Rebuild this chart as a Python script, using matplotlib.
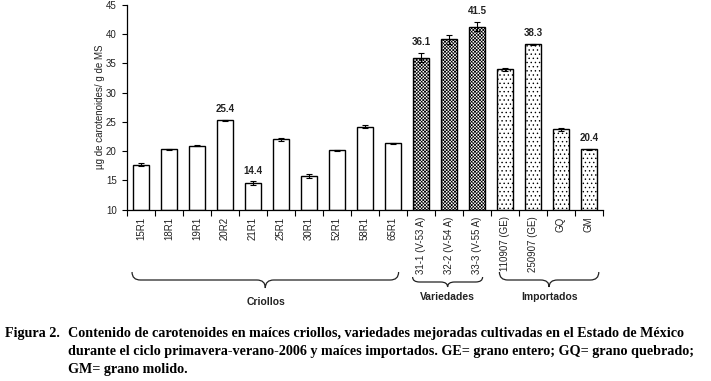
import matplotlib
matplotlib.use("Agg")
import matplotlib.pyplot as plt
from matplotlib.path import Path
from matplotlib.patches import PathPatch
import matplotlib.transforms as mtransforms

# datos
categorias = ['15R1', '18R1', '19R1', '20R2', '21R1', '25R1', '30R1', '52R1', '58R1', '65R1',
              '31-1 (V-53 A)', '32-2 (V-54 A)', '33-3 (V-55 A)',
              '110907 (GE)', '250907 (GE)', 'GQ', 'GM']
valores = [17.7, 20.3, 20.9, 25.3, 14.5, 22.0, 15.7, 20.1, 24.2, 21.3,
           36.0, 39.1, 41.3, 34.0, 38.3, 23.7, 20.3]
errores = [0.3, 0.1, 0.1, 0.1, 0.3, 0.2, 0.3, 0.1, 0.3, 0.1,
           0.8, 0.8, 0.8, 0.3, 0.1, 0.2, 0.1]
etiquetas = [None, None, None, '25.4', '14.4', None, None, None, None, None,
             '36.1', None, '41.5', None, '38.3', None, '20.4']
grupos = ['Criollos'] * 10 + ['Variedades'] * 3 + ['Importados'] * 4
yticks = [10, 15, 20, 25, 30, 35, 40, 45]

plt.rcParams['hatch.linewidth'] = 0.5
fuente = 'Liberation Sans'
gris = '#222222'

fig = plt.figure(figsize=(7.11, 3.81), dpi=100)
ax = fig.add_axes([127 / 711, 1 - 209.5 / 381, 476 / 711, 204.5 / 381])

tramas = {'Criollos': '', 'Variedades': 'xxxxxxxxxx', 'Importados': '....'}
x = list(range(len(categorias)))
for i in x:
    ax.bar(i, valores[i] - 10, bottom=10, width=0.58, color='white', edgecolor='black',
           linewidth=1.0, hatch=tramas[grupos[i]], zorder=2)
ax.errorbar(x, valores, yerr=errores, fmt='none', ecolor='black', elinewidth=0.8,
            capsize=2.5, capthick=0.8, zorder=3)

for i, t in enumerate(etiquetas):
    if t:
        ax.annotate(t, (i, valores[i] + errores[i]), xytext=(0, 4), textcoords='offset points',
                    ha='center', va='bottom', fontsize=7, fontweight='bold',
                    family=fuente, color=gris)

ax.set_xlim(-0.5, len(categorias) - 0.5)
ax.set_ylim(10, 45)
ax.set_yticks(yticks)
ax.set_yticklabels([str(v) for v in yticks], family=fuente, fontsize=7, color=gris)
# ticks de x en los limites de cada categoria (estilo Excel)
ax.set_xticks([i - 0.5 for i in range(len(categorias) + 1)])
ax.set_xticklabels([])
ax.set_xticks(x, minor=True)
ax.set_xticklabels(categorias, minor=True, rotation=90, family=fuente, fontsize=7,
                   color=gris)
ax.tick_params(axis='x', which='minor', length=0, pad=5)
ax.tick_params(axis='x', which='major', length=4, width=0.8, direction='out')
ax.tick_params(axis='y', length=3.5, width=0.8, direction='out', pad=4)
for s in ['top', 'right']:
    ax.spines[s].set_visible(False)
for s in ['left', 'bottom']:
    ax.spines[s].set_linewidth(0.9)

fig.text(100 / 711, 1 - 107 / 381, 'µg de carotenoides/ g de MS', rotation=90,
         ha='center', va='center', family=fuente, fontsize=7, color=gris)

# llaves bajo los grupos
trans = mtransforms.blended_transform_factory(ax.transData, ax.transAxes)


def llave(x0, x1, y_top, y_mid, y_tip, d=0.3):
    xc = (x0 + x1) / 2
    verts = [(x0, y_top), (x0, y_mid), (x0 + d, y_mid),
             (xc - d, y_mid), (xc, y_mid), (xc, y_tip),
             (xc, y_mid), (xc + d, y_mid),
             (x1 - d, y_mid), (x1, y_mid), (x1, y_top)]
    codes = [Path.MOVETO, Path.CURVE3, Path.CURVE3,
             Path.LINETO, Path.CURVE3, Path.CURVE3,
             Path.CURVE3, Path.CURVE3,
             Path.LINETO, Path.CURVE3, Path.CURVE3]
    ax.add_patch(PathPatch(Path(verts, codes), transform=trans, fill=False,
                           edgecolor=gris, linewidth=0.9, clip_on=False))


def fy(py):
    return (209.5 - py) / 204.5


llave(-0.32, 9.2, fy(272), fy(280), fy(288))
ax.text(4.45, fy(302), 'Criollos', transform=trans, ha='center', va='center',
        family=fuente, fontsize=7.5, fontweight='bold', color=gris)
llave(9.7, 12.2, fy(277), fy(282), fy(287), d=0.25)
ax.text(10.95, fy(297), 'Variedades', transform=trans, ha='center', va='center',
        family=fuente, fontsize=7.5, fontweight='bold', color=gris)
llave(12.8, 16.35, fy(272), fy(280), fy(287), d=0.3)
ax.text(14.6, fy(297), 'Importados', transform=trans, ha='center', va='center',
        family=fuente, fontsize=7.5, fontweight='bold', color=gris)

# pie de figura
serif = 'Liberation Serif'
fig.text(5 / 711, 1 - 333 / 381, 'Figura 2.', ha='left', va='center', family=serif,
         fontsize=10.2, fontweight='bold')
lineas = ['Contenido de carotenoides en maíces criollos, variedades mejoradas cultivadas en el Estado de México',
          'durante el ciclo primavera-verano-2006 y maíces importados. GE= grano entero; GQ= grano quebrado;',
          'GM= grano molido.']
for k, l in enumerate(lineas):
    fig.text(68 / 711, 1 - (333 + 18 * k) / 381, l, ha='left', va='center', family=serif,
             fontsize=10.2, fontweight='bold')

fig.savefig('out.png', dpi=100)
